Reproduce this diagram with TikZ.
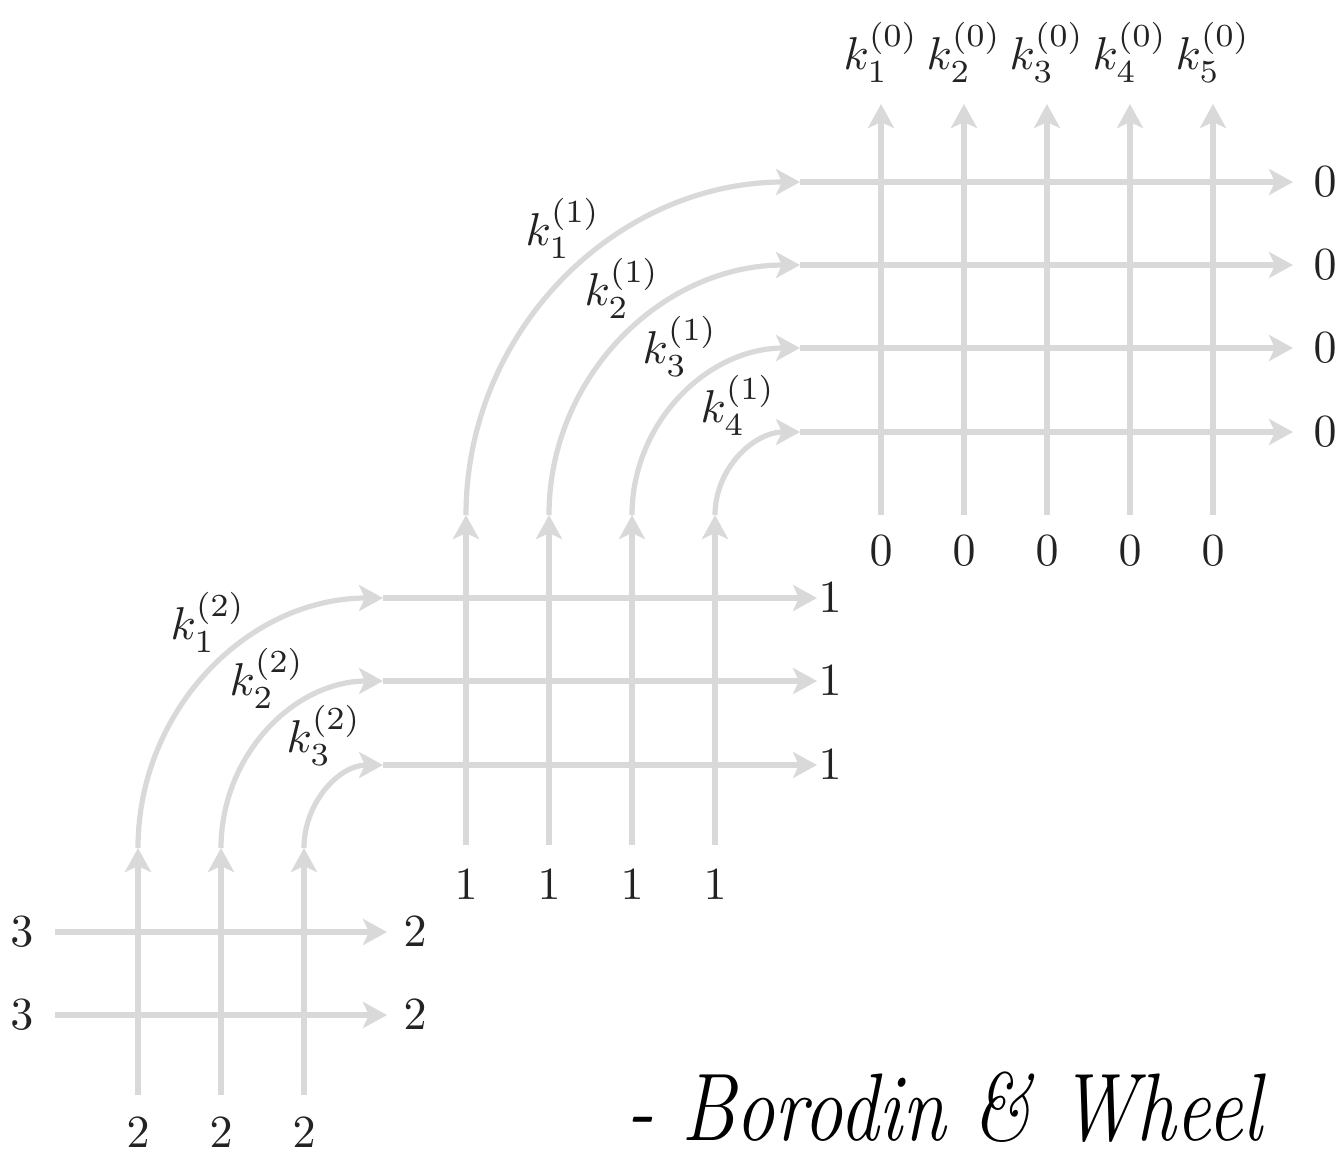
\documentclass[tikz,border=0pt]{standalone}
\usetikzlibrary{arrows.meta}
\definecolor{linegray}{RGB}{217,217,217}
\definecolor{txt}{RGB}{35,35,35}
\begin{document}
\begin{tikzpicture}[x=0.5pt,y=-0.5pt,
  strand/.style={draw=linegray,line width=2.6pt},
  arr/.style={strand,-{Stealth[length=12pt,width=13pt,inset=3pt]}},
  lab/.style={text=txt,font=\fontsize{10}{12}\selectfont,inner sep=0pt,scale=2.3},
  hand/.style={text=black,font=\fontsize{48}{56}\selectfont\itshape,inner sep=0pt,anchor=base west,xscale=0.82,text depth=0pt}]
\useasboundingbox (0,0) rectangle (1343,1158);
\fill[white] (0,0) rectangle (1343,1158);

% ---------- bottom grid (3 columns, 2 rows) ----------
\foreach \i/\x in {1/138,2/221,3/304}{
  \coordinate (bb\i) at (\x,1095);
  \coordinate (bt\i) at (\x,848);
  \node[lab] (bl\i) at (\x,1133) {$2$};
}
\foreach \j/\y in {1/932,2/1015}{
  \coordinate (bw\j) at (55,\y);
  \coordinate (be\j) at (387,\y);
  \node[lab] (bL\j) at (22,\y) {$3$};
  \node[lab] (bR\j) at (415,\y) {$2$};
  \draw[arr] (bw\j) -- (be\j);
}
\foreach \i in {1,2,3}{ \draw[arr] (bb\i) -- (bt\i); }

% arcs from bottom grid to middle grid
\draw[arr] (bt1) arc[start angle=180,end angle=270,x radius=245,y radius=250] coordinate (ma1);
\draw[arr] (bt2) arc[start angle=180,end angle=270,x radius=162,y radius=167] coordinate (ma2);
\draw[arr] (bt3) arc[start angle=180,end angle=270,x radius=79,y radius=83] coordinate (ma3);
\node[lab] (k21) at (208,622) {$k_1^{(2)}$};
\node[lab] (k22) at (267,678) {$k_2^{(2)}$};
\node[lab] (k23) at (324,735) {$k_3^{(2)}$};

% ---------- middle grid (4 columns, 3 rows) ----------
\foreach \j/\y in {1/598,2/681,3/765}{
  \coordinate (me\j) at (817,\y);
  \node[lab] (mR\j) at (830,\y) {$1$};
}
\foreach \j in {1,2,3}{ \draw[strand] (ma\j) -- ++(4,0) coordinate (ms\j); \draw[arr] (ms\j) -- (me\j); }
\foreach \i/\x in {1/466,2/549,3/632,4/715}{
  \coordinate (mb\i) at (\x,845);
  \coordinate (mt\i) at (\x,515);
  \node[lab] (ml\i) at (\x,885) {$1$};
  \draw[arr] (mb\i) -- (mt\i);
}
% arcs from middle grid to top grid
\draw[arr] (mt1) arc[start angle=180,end angle=270,x radius=334,y radius=333] coordinate (ta1);
\draw[arr] (mt2) arc[start angle=180,end angle=270,x radius=251,y radius=250] coordinate (ta2);
\draw[arr] (mt3) arc[start angle=180,end angle=270,x radius=168,y radius=167] coordinate (ta3);
\draw[arr] (mt4) arc[start angle=180,end angle=270,x radius=85,y radius=83] coordinate (ta4);
\node[lab] (k11) at (563,228) {$k_1^{(1)}$};
\node[lab] (k12) at (622,288) {$k_2^{(1)}$};
\node[lab] (k13) at (680,346) {$k_3^{(1)}$};
\node[lab] (k14) at (738,405) {$k_4^{(1)}$};

% ---------- top grid (5 columns, 4 rows) ----------
\foreach \j/\y in {1/182,2/265,3/348,4/432}{
  \coordinate (te\j) at (1293,\y);
  \node[lab] (tR\j) at (1325,\y) {$0$};
}
\foreach \j in {1,2,3,4}{ \draw[strand] (ta\j) -- ++(4,0) coordinate (ts\j); \draw[arr] (ts\j) -- (te\j); }
\foreach \i/\x in {1/881,2/964,3/1047,4/1130,5/1213}{
  \coordinate (tb\i) at (\x,515);
  \coordinate (tt\i) at (\x,104);
  \node[lab] (tl\i) at (\x,551) {$0$};
  \node[lab] (k0\i) at (\x,52) {$k_\i^{(0)}$};
  \draw[arr] (tb\i) -- (tt\i);
}

% ---------- handwritten attribution ----------
\node[hand] (attr) at (626,1140) {- Borodin \& Wheel};
\end{tikzpicture}
\end{document}
